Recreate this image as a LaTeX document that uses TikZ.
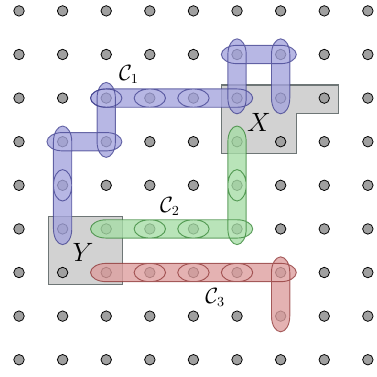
\documentclass[tikz,border=0pt]{standalone}
\usepackage{amsmath}
\usepackage{xcolor}
\usepackage{tikz}
\usetikzlibrary{calc}

\definecolor{bluefill}{RGB}{165,165,221}
\definecolor{blueline}{RGB}{60,60,140}
\definecolor{greenfill}{RGB}{167,221,167}
\definecolor{greenline}{RGB}{50,130,50}
\definecolor{redfill}{RGB}{221,159,159}
\definecolor{redline}{RGB}{140,50,50}
\definecolor{regionfill}{RGB}{210,210,210}
\definecolor{regionline}{RGB}{110,118,118}
\definecolor{sitefill}{RGB}{160,160,160}

\begin{document}
\begin{tikzpicture}[
    site/.style={circle, draw=black, fill=sitefill, line width=0.5pt, minimum size=0.24cm, inner sep=0pt},
    region/.style={draw=regionline, fill=regionfill, line width=0.9pt},
    % capsules between two neighbouring sites
    hcap/.style 2 args={insert path={([yshift=0.21cm]#1.center) -- ([yshift=0.21cm]#2.center)
        arc[start angle=90, end angle=-90, x radius=0.36cm, y radius=0.21cm]
        -- ([yshift=-0.21cm]#1.center)
        arc[start angle=270, end angle=90, x radius=0.36cm, y radius=0.21cm] -- cycle}},
    vcap/.style 2 args={insert path={([xshift=0.21cm]#1.center) -- ([xshift=0.21cm]#2.center)
        arc[start angle=0, end angle=-180, x radius=0.21cm, y radius=0.36cm]
        -- ([xshift=-0.21cm]#1.center)
        arc[start angle=180, end angle=0, x radius=0.21cm, y radius=0.36cm] -- cycle}},
    cone/.style={fill=bluefill, fill opacity=0.8, draw=blueline, draw opacity=0.75, line width=0.6pt},
    ctwo/.style={fill=greenfill, fill opacity=0.8, draw=greenline, draw opacity=0.75, line width=0.6pt},
    cthree/.style={fill=redfill, fill opacity=0.8, draw=redline, draw opacity=0.75, line width=0.6pt}
    ]
    \useasboundingbox (-0.436,-8.39) rectangle (8.21,0.25);

    \draw[region] (4.64,-1.70) -- (7.33,-1.70) -- (7.33,-2.35) -- (6.36,-2.35)
        -- (6.36,-3.27) -- (4.64,-3.27) -- cycle;
    \draw[region] (0.67,-4.71) rectangle (2.37,-6.27);

    \foreach \i in {0,...,8}
        \foreach \j in {0,...,8}
            \node[site] (p\i\j) at (\i,-\j) {};

    \node (X) at (5.5,-2.55) {\fontsize{17.5}{20}\selectfont $X$};
    \node (Y) at (1.47,-5.54) {\fontsize{17.5}{20}\selectfont $Y$};

    % C_1
    \filldraw[cone] [vcap={p14}{p15}] [vcap={p13}{p14}] [hcap={p13}{p23}]
        [vcap={p22}{p23}] [hcap={p22}{p32}] [hcap={p32}{p42}] [hcap={p42}{p52}]
        [vcap={p51}{p52}] [hcap={p51}{p61}] [vcap={p61}{p62}];
    \draw[cone, fill=none] (p22.center) ellipse[x radius=0.36cm, y radius=0.21cm];

    % C_2
    \filldraw[ctwo] [hcap={p25}{p35}] [hcap={p35}{p45}] [hcap={p45}{p55}]
        [vcap={p54}{p55}] [vcap={p53}{p54}];

    % C_3
    \filldraw[cthree] [hcap={p26}{p36}] [hcap={p36}{p46}] [hcap={p46}{p56}]
        [hcap={p56}{p66}] [vcap={p66}{p67}];

    \node (c1) at (2.52,-1.45) {\fontsize{13.5}{16}\selectfont $\mathcal{C}_1$};
    \node (c2) at (3.46,-4.48) {\fontsize{13.5}{16}\selectfont $\mathcal{C}_2$};
    \node (c3) at (4.5,-6.57) {\fontsize{13.5}{16}\selectfont $\mathcal{C}_3$};
\end{tikzpicture}
\end{document}
